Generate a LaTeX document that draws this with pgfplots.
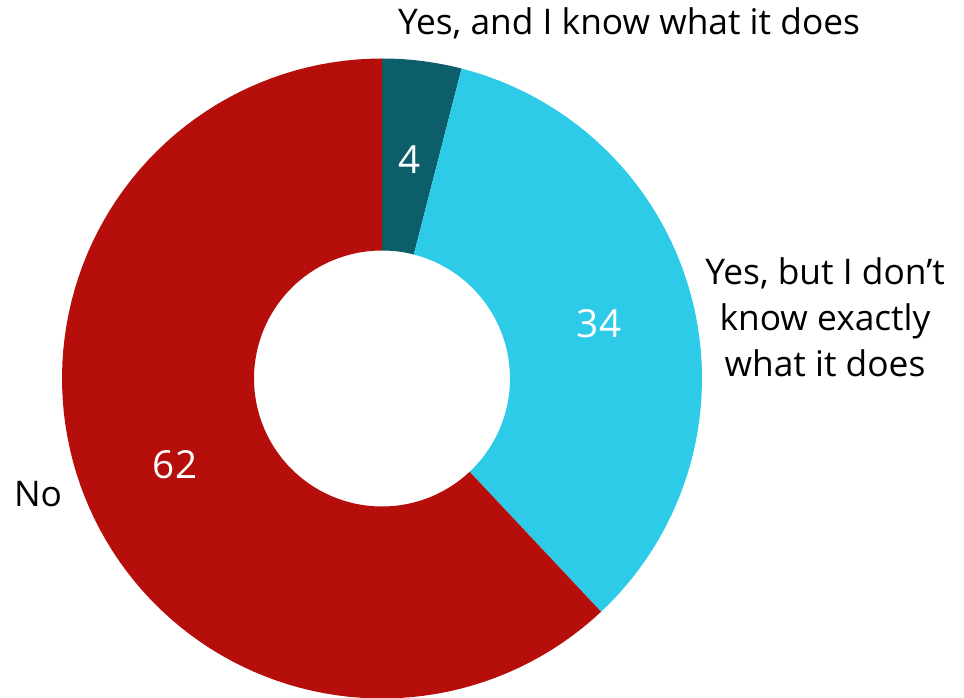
\documentclass[border=0pt]{standalone}
\usepackage{pgfplots}
\pgfplotsset{compat=1.18}
\usepackage{fontspec}
\setmainfont{Open Sans}
\definecolor{cTeal}{HTML}{0C5E6A}
\definecolor{cCyan}{HTML}{2DCBE8}
\definecolor{cRed}{HTML}{B50E0B}
% data (percent)
\def\vA{4}  % Yes, and I know what it does
\def\vB{34} % Yes, but I don't know exactly what it does
\def\vC{62} % No
\pgfmathsetmacro{\cA}{\vA}
\pgfmathsetmacro{\cB}{\vA+\vB}
\pgfmathsetmacro{\cC}{\vA+\vB+\vC}
\newcommand{\ring}[3]{%
\addplot[fill=#3, draw=none, variable=\t,
  samples at={0,0.01,...,1,1,1.00001,1.01,1.02,...,2,2}]
 ({382 + (\t<=1 ? 320 : 128)*cos(90 - 3.6*(\t<=1 ? #1+(#2-#1)*\t : #2+(#1-#2)*(\t-1)))},
  {-378.5 + (\t<=1 ? 320 : 128)*sin(90 - 3.6*(\t<=1 ? #1+(#2-#1)*\t : #2+(#1-#2)*(\t-1)))}) -- cycle;
}
\begin{document}
\begin{tikzpicture}
\path[use as bounding box] (0,0) rectangle (723pt,522.75pt);
\begin{axis}[width=723pt, height=522.75pt, scale only axis,
  xmin=0, xmax=964, ymin=-697, ymax=0, hide axis, clip=false]
\ring{0}{\cA}{cTeal}
\ring{\cA}{\cB}{cCyan}
\ring{\cB}{\cC}{cRed}
\node[anchor=base, inner sep=0pt, font=\fontsize{26.5}{32}\selectfont] at (axis cs:629,-35) {Yes, and I know what it does};
\node[anchor=base, inner sep=0pt, align=center, font=\fontsize{26.5}{34.5}\selectfont] at (axis cs:825,-377) {Yes, but I don’t\\know exactly\\what it does};
\node[anchor=base, inner sep=0pt, font=\fontsize{26.5}{32}\selectfont] at (axis cs:38,-506) {No};
\node[anchor=base, inner sep=0pt, text=white, font=\fontsize{29}{35}\selectfont] at (axis cs:410,-174) {\vA};
\node[anchor=base, inner sep=0pt, text=white, font=\fontsize{29}{35}\selectfont] at (axis cs:599,-338) {\vB};
\node[anchor=base, inner sep=0pt, text=white, font=\fontsize{29}{35}\selectfont] at (axis cs:175,-479) {\vC};
\end{axis}
\end{tikzpicture}
\end{document}
